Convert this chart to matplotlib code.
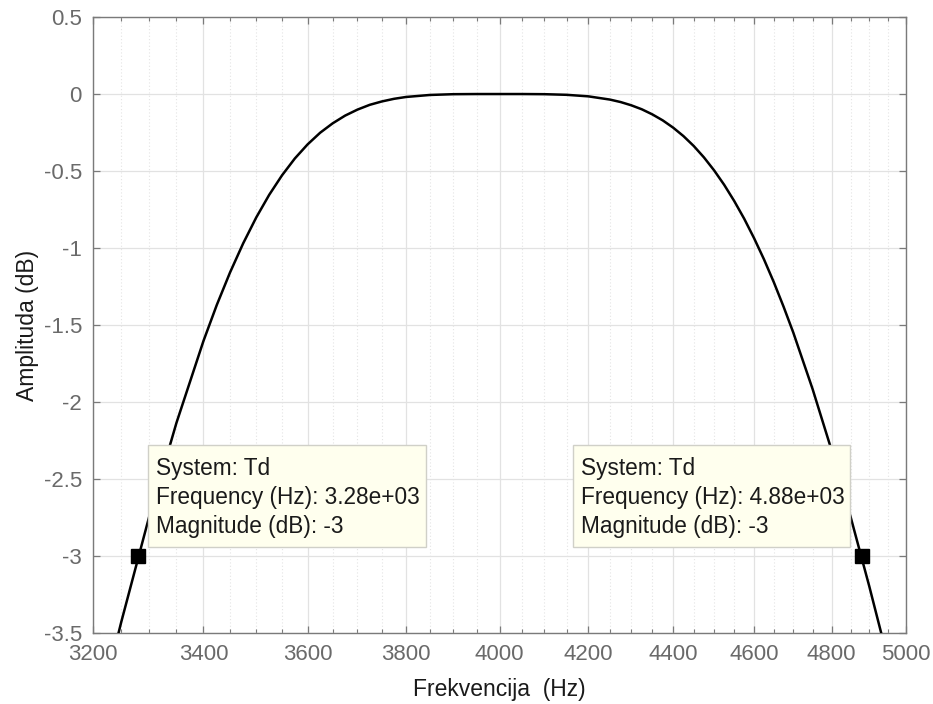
import matplotlib
matplotlib.use("Agg")
import matplotlib.pyplot as plt
from matplotlib.ticker import FixedLocator, FixedFormatter, NullFormatter
from matplotlib.patches import Rectangle

# ---- data ----
freq_hz = [3200, 3250, 3300, 3350, 3400, 3425, 3450, 3475, 3500, 3525, 3550, 3575,
           3600, 3625, 3650, 3675, 3700, 3725, 3750, 3775, 3800, 3850, 3900, 3950,
           4000, 4050, 4100, 4150, 4200, 4250, 4275, 4300, 4325, 4350, 4375, 4400,
           4425, 4450, 4475, 4500, 4525, 4550, 4575, 4600, 4625, 4650, 4675, 4700,
           4750, 4800, 4850, 4900, 4950, 5000]
mag_db = [-4.165, -3.427, -2.746, -2.134, -1.603, -1.369, -1.158, -0.969, -0.801,
          -0.654, -0.527, -0.418, -0.327, -0.251, -0.190, -0.140, -0.101, -0.070,
          -0.048, -0.031, -0.019, -0.006, -0.001, 0.000, 0.000, 0.000, -0.001,
          -0.005, -0.015, -0.036, -0.052, -0.073, -0.099, -0.132, -0.171, -0.218,
          -0.273, -0.337, -0.411, -0.495, -0.589, -0.694, -0.809, -0.936, -1.073,
          -1.221, -1.380, -1.548, -1.914, -2.313, -2.742, -3.193, -3.663, -4.145]

tip_freq = [3280, 4880]
tip_mag = [-3, -3]
tip_system = ["Td", "Td"]
tip_freq_text = ["3.28e+03", "4.88e+03"]
tip_mag_text = ["-3", "-3"]

x_ticks = [3200, 3400, 3600, 3800, 4000, 4200, 4400, 4600, 4800, 5000]
x_tick_labels = ["3200", "3400", "3600", "3800", "4000", "4200", "4400", "4600", "4800", "5000"]
x_minor = [3250, 3300, 3350, 3450, 3500, 3550, 3650, 3700, 3750, 3850, 3900, 3950,
           4050, 4100, 4150, 4250, 4300, 4350, 4450, 4500, 4550, 4650, 4700, 4750,
           4850, 4900, 4950]
y_ticks = [0.5, 0, -0.5, -1, -1.5, -2, -2.5, -3, -3.5]
y_tick_labels = ["0.5", "0", "-0.5", "-1", "-1.5", "-2", "-2.5", "-3", "-3.5"]

plt.rcParams['font.family'] = ['Liberation Sans', 'DejaVu Sans']

fig = plt.figure(figsize=(9.33, 7.04), dpi=100)
ax = fig.add_axes([93/933, 1-633.3/704, 813/933, 616.3/704])

ax.set_xscale('log')
ax.set_xlim(3200, 5000)
ax.set_ylim(-3.5, 0.5)

ax.plot(freq_hz, mag_db, color='black', lw=1.8, zorder=3)
ax.plot(tip_freq, tip_mag, ls='none', marker='s', ms=10.5, color='black', zorder=5)

ax.xaxis.set_major_locator(FixedLocator(x_ticks))
ax.xaxis.set_major_formatter(FixedFormatter(x_tick_labels))
ax.xaxis.set_minor_locator(FixedLocator(x_minor))
ax.xaxis.set_minor_formatter(NullFormatter())
ax.yaxis.set_major_locator(FixedLocator(y_ticks))
ax.yaxis.set_major_formatter(FixedFormatter(y_tick_labels))
ax.yaxis.set_minor_locator(FixedLocator([]))

spine_col = '#7a7a7a'
for s in ax.spines.values():
    s.set_color(spine_col)
    s.set_linewidth(1.0)

ax.tick_params(which='both', direction='in', top=True, right=True, color=spine_col,
               labelcolor='#6a6a6a', labelsize=16)
ax.tick_params(which='major', length=5, width=0.9, pad=8)
ax.tick_params(which='minor', length=3, width=0.8)

ax.grid(True, which='major', color='#e2e2e2', lw=0.9, ls='-', zorder=0)
ax.xaxis.grid(True, which='minor', color='#e4e4e4', lw=0.8, ls=(0, (1, 2)), zorder=0)
ax.set_axisbelow(True)

ax.set_xlabel("Frekvencija  (Hz)", fontsize=16.5, color='#1a1a1a', labelpad=9)
ax.set_ylabel("Amplituda (dB)", fontsize=16.5, color='#1a1a1a', labelpad=3)

# data tips
box_left = [0.068, 0.590]
text_left = [0.0775, 0.5999]
for i in range(len(tip_freq)):
    ax.add_patch(Rectangle((box_left[i], 0.140), 0.3412, 0.1655, transform=ax.transAxes,
                           facecolor='#ffffee', edgecolor='#d0d0c8', lw=1.0, zorder=6))
    lines = [f"System: {tip_system[i]}",
             f"Frequency (Hz): {tip_freq_text[i]}",
             f"Magnitude (dB): {tip_mag_text[i]}"]
    for j, (txt, yb) in enumerate(zip(lines, [0.2569, 0.2098, 0.1628])):
        ax.text(text_left[i], yb, txt, transform=ax.transAxes, fontsize=16.3,
                color='#1a1a1a', va='baseline', ha='left', zorder=7)

fig.savefig("out.png", dpi=100)
